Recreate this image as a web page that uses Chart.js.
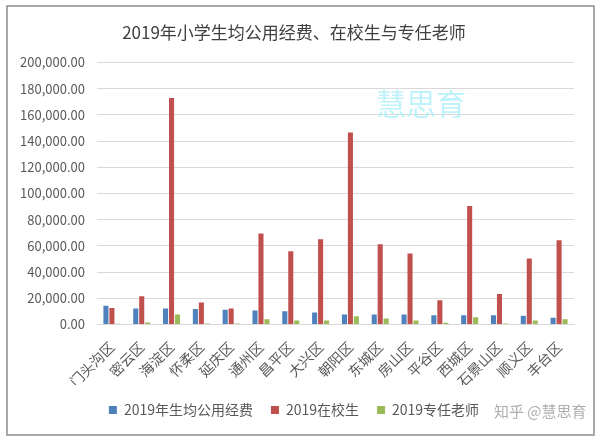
<!DOCTYPE html>
<html>
<head>
    <meta charset="UTF-8">
    <title>2019年小学生均公用经费、在校生与专任老师</title>
    <style>
        body { margin: 0; padding: 0; background: #fff; }
        #chart-container { width: 600px; height: 439px; }
    </style>
</head>
<body>
    <div id="chart-container">
        <canvas id="eduChart" width="600" height="439"></canvas>
    </div>

    <script src="https://cdn.jsdelivr.net/npm/chart.js"></script>
    <script>
        // data
        const districts = ['门头沟区', '密云区', '海淀区', '怀柔区', '延庆区', '通州区', '昌平区', '大兴区',
                           '朝阳区', '东城区', '房山区', '平谷区', '西城区', '石景山区', '顺义区', '丰台区'];
        const fundPerStudent = [14250, 12300, 12300, 11800, 11200, 10700, 10200, 9200,
                                7700, 7700, 7700, 7100, 7100, 7100, 6600, 5100];
        const students = [12700, 21500, 172800, 16800, 12300, 69500, 55900, 65100,
                          146600, 61300, 54100, 18600, 90400, 23200, 50300, 64300];
        const teachers = [600, 1500, 7700, 800, 800, 4100, 3100, 3100,
                          6400, 4600, 3100, 1300, 5600, 800, 3100, 4100];
        const seriesNames = ['2019年生均公用经费', '2019在校生', '2019专任老师'];

        const font = '"Noto Sans CJK SC", "Noto Sans", sans-serif';

        // outer frame + watermarks
        const framePlugin = {
            id: 'frame',
            beforeDraw(chart) {
                const c = chart.ctx;
                c.save();
                c.fillStyle = '#fff';
                c.fillRect(0, 0, chart.width, chart.height);
                c.strokeStyle = '#8c8c8c';
                c.lineWidth = 1.5;
                c.strokeRect(7, 6, 587, 429);
                c.restore();
            },
            afterDraw(chart) {
                const c = chart.ctx;
                c.save();
                c.font = '30px ' + font;
                c.fillStyle = 'rgba(170, 238, 248, 0.75)';
                c.textAlign = 'center';
                c.textBaseline = 'middle';
                c.fillText('慧思育', 421, 104);
                c.font = '15px ' + font;
                c.fillStyle = 'rgba(140, 140, 140, 0.7)';
                c.textAlign = 'left';
                c.fillText('知乎 @慧思育', 494, 411);
                c.restore();
            }
        };

        const ctx = document.getElementById('eduChart').getContext('2d');
        new Chart(ctx, {
            type: 'bar',
            data: {
                labels: districts,
                datasets: [
                    { label: seriesNames[0], data: fundPerStudent, backgroundColor: '#4F81BD' },
                    { label: seriesNames[1], data: students, backgroundColor: '#C0504D' },
                    { label: seriesNames[2], data: teachers, backgroundColor: '#9BBB59' }
                ]
            },
            options: {
                responsive: false,
                animation: false,
                categoryPercentage: 0.6,
                barPercentage: 0.85,
                layout: { padding: { left: 14, right: 26, top: 22, bottom: 12 } },
                plugins: {
                    title: {
                        display: true,
                        text: '2019年小学生均公用经费、在校生与专任老师',
                        color: '#404040',
                        font: { family: font, size: 17, weight: 'normal' },
                        padding: { top: 0, bottom: 20 }
                    },
                    legend: {
                        position: 'bottom',
                        labels: {
                            color: '#595959',
                            font: { family: font, size: 14 },
                            boxWidth: 8,
                            boxHeight: 8,
                            padding: 18
                        }
                    },
                    tooltip: { enabled: false }
                },
                scales: {
                    x: {
                        grid: { display: false },
                        border: { color: '#d9d9d9' },
                        afterFit(scale) { scale.height -= 11; },
                        ticks: {
                            color: '#595959',
                            font: { family: font, size: 14 },
                            minRotation: 45,
                            maxRotation: 45,
                            autoSkip: false,
                            padding: 6
                        }
                    },
                    y: {
                        min: 0,
                        max: 200000,
                        grid: { color: '#d9d9d9', drawTicks: false },
                        border: { display: false },
                        afterFit(scale) { scale.width = 83; },
                        ticks: {
                            stepSize: 20000,
                            padding: 12,
                            color: '#595959',
                            font: { family: font, size: 13 },
                            callback: v => v.toLocaleString('en-US', { minimumFractionDigits: 2, maximumFractionDigits: 2 })
                        }
                    }
                }
            },
            plugins: [framePlugin]
        });
    </script>
</body>
</html>
